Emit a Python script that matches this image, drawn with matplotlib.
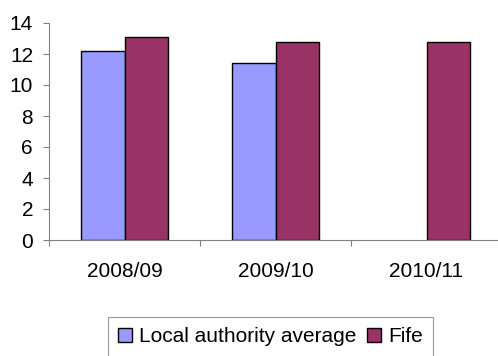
import matplotlib.pyplot as plt
import numpy as np

plt.rcParams['font.family'] = ['Liberation Sans', 'DejaVu Sans']

years = ["2008/09", "2009/10", "2010/11"]
la_avg = [12.2, 11.4, np.nan]
fife = [13.1, 12.8, 12.8]
series_names = ["Local authority average", "Fife"]
colours = ["#9999FF", "#993366"]

fig = plt.figure(figsize=(4.98, 3.56), dpi=100)
ax = fig.add_axes([49/498, 1 - 240/356, 453/498, 217/356])

x = np.arange(len(years))
w = 0.29
ax.bar(x - w/2, la_avg, w, color=colours[0], edgecolor="black", linewidth=1.0, label=series_names[0])
ax.bar(x + w/2, fife, w, color=colours[1], edgecolor="black", linewidth=1.0, label=series_names[1])

ax.set_xlim(-0.5, 2.5)
ax.set_ylim(0, 14)
ax.set_yticks(range(0, 15, 2))

# category labels at centres, tick marks at boundaries
ax.set_xticks(x)
ax.set_xticklabels(years)
ax.set_xticks(np.arange(-0.5, 3, 1), minor=True)
ax.tick_params(axis="x", which="major", length=0, pad=16, labelsize=15)
ax.tick_params(axis="x", which="minor", length=4.5, width=0.8, color="#808080", direction="out")
ax.tick_params(axis="y", length=4.5, width=0.8, color="#808080", pad=7, labelsize=15)

for s in ["top", "right"]:
    ax.spines[s].set_visible(False)
for s in ["left", "bottom"]:
    ax.spines[s].set_color("#808080")
    ax.spines[s].set_linewidth(0.8)

leg = fig.legend(loc="upper left", bbox_to_anchor=(108/498, 1 - 317/356), ncol=2,
                 frameon=True, fancybox=False, edgecolor="#808080", fontsize=15,
                 handlelength=0.65, handleheight=0.65, handletextpad=0.35,
                 columnspacing=0.5, borderpad=0.5, borderaxespad=0)
leg.get_frame().set_linewidth(0.8)

fig.savefig("out.png", dpi=100)
